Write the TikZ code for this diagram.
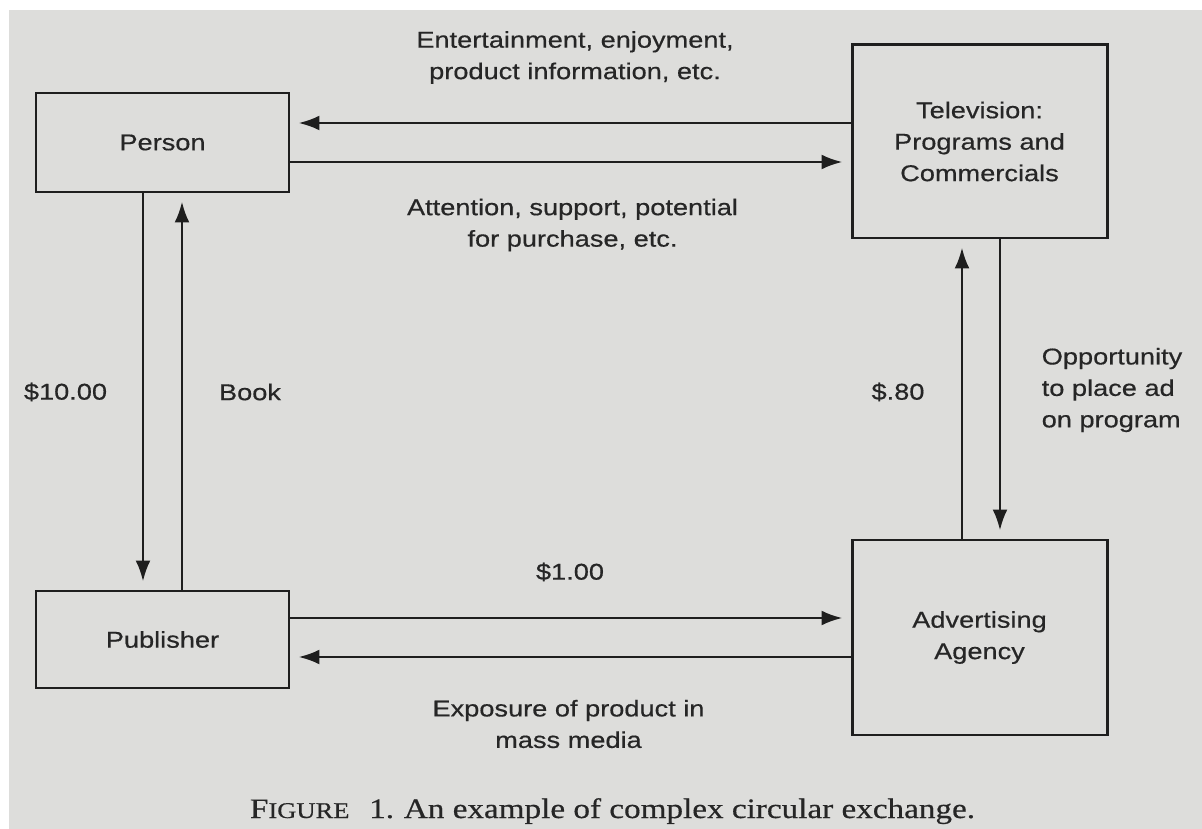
\documentclass[tikz,border=0pt]{standalone}
\usepackage{fontspec}
\usetikzlibrary{arrows.meta}
\newfontfamily\labfont[FakeStretch=1.19,FakeBold=0.5]{Liberation Sans}
\newfontfamily\capfont[FakeStretch=1.18,FakeBold=0.5]{Liberation Serif}
\definecolor{paper}{HTML}{DDDDDB}
\definecolor{ink}{HTML}{262626}
\definecolor{linec}{HTML}{1E1E1E}
\tikzset{
  box/.style={draw=linec, line width=1.7pt, inner sep=0pt, align=center,
    font=\labfont\fontsize{13}{17.9}\selectfont, text=ink},
  lbl/.style={align=center, inner sep=0pt,
    font=\labfont\fontsize{13}{17.9}\selectfont, text=ink},
  arr/.style={draw=linec, line width=1.6pt,
    -{Latex[length=0.42cm,width=0.3cm]}, shorten >=0.16cm},
  ln/.style={draw=linec, line width=1.6pt}
}
\begin{document}
\begin{tikzpicture}
\useasboundingbox (0,0) rectangle (24.04,-16.58);
\fill[white] (0,0) rectangle (24.04,-16.58);
\fill[paper] (0.18,-0.2) rectangle (24.04,-16.58);

% boxes
\node[box, minimum width=5.06cm, minimum height=1.98cm] (person) at (3.25,-2.85) {Person};
\node[box, minimum width=5.10cm, minimum height=3.86cm] (tv) at (19.59,-2.83) {Television:\\Programs and\\Commercials};
\node[box, minimum width=5.06cm, minimum height=1.94cm] (pub) at (3.25,-12.79) {Publisher};
\node[box, minimum width=5.10cm, minimum height=3.90cm] (agency) at (19.59,-12.75) {Advertising\\Agency};

% helper levels
\coordinate (ya) at (0,-2.46);
\coordinate (yb) at (0,-3.24);
\coordinate (yc) at (0,-12.36);
\coordinate (yd) at (0,-13.14);
\coordinate (xa) at (2.86,0);
\coordinate (xb) at (3.64,0);
\coordinate (xc) at (19.24,0);
\coordinate (xd) at (20.0,0);

% connectors
\draw[arr] (tv.west |- ya) -- (person.east |- ya);
\draw[arr] (person.east |- yb) -- (tv.west |- yb);
\draw[arr] (person.south -| xa) -- (pub.north -| xa);
\draw[arr] (pub.north -| xb) -- (person.south -| xb);
\draw[arr] (agency.north -| xc) -- (tv.south -| xc);
\draw[arr] (tv.south -| xd) -- (agency.north -| xd);
\draw[arr] (pub.east |- yc) -- (agency.west |- yc);
\draw[arr] (agency.west |- yd) -- (pub.east |- yd);

% labels
\node[lbl] (l1) at (11.5,-1.15) {Entertainment, enjoyment,\\product information, etc.};
\node[lbl] (l2) at (11.45,-4.5) {Attention, support, potential\\for purchase, etc.};
\node[lbl] (l3) at (1.31,-7.84) {\$10.00};
\node[lbl] (l4) at (5.0,-7.84) {Book};
\node[lbl] (l5) at (17.96,-7.84) {\$.80};
\node[lbl, align=left] (l6) at (22.24,-7.8) {Opportunity\\to place ad\\on program};
\node[lbl] (l7) at (11.4,-11.44) {\$1.00};
\node[lbl] (l8) at (11.37,-14.48) {Exposure of product in\\mass media};

% caption
\node[inner sep=0pt, anchor=base, text=ink, font=\capfont\fontsize{16}{19}\selectfont] (cap) at (12.25,-16.36)
  {F{\fontsize{12.8}{15}\selectfont IGURE}\hspace{0.7em}1.\hspace{0.35em}An example of complex circular exchange.};
\end{tikzpicture}
\end{document}
